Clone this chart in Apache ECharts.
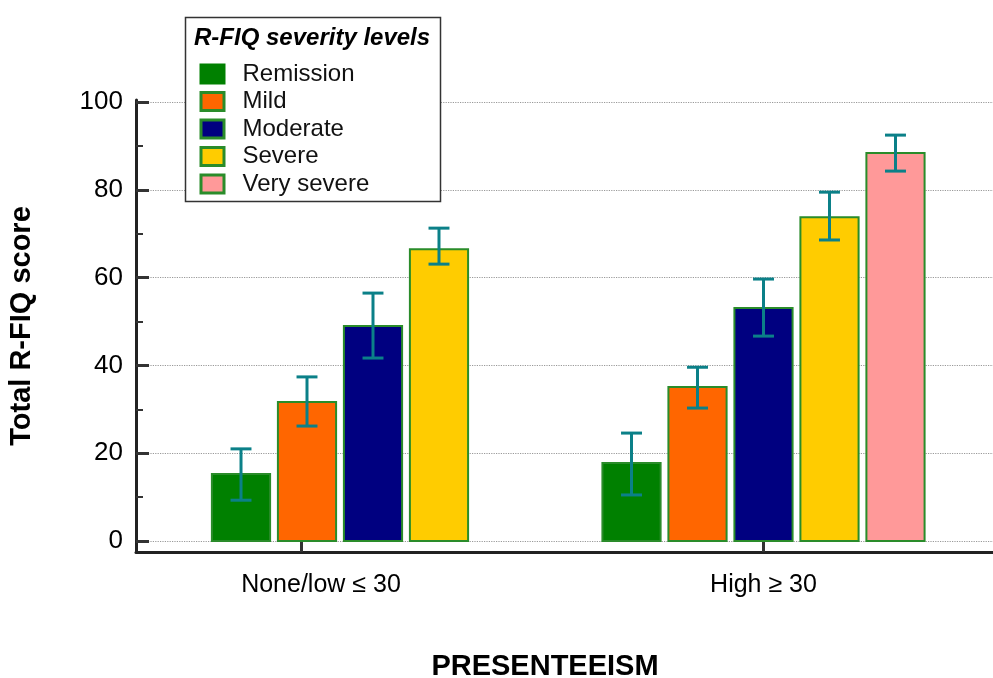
<!DOCTYPE html>
<html>
<head>
<meta charset="utf-8">
<script src="https://cdn.jsdelivr.net/npm/echarts@6/dist/echarts.min.js"></script>
<style>
html,body{margin:0;padding:0;background:#fff;}
#chart{width:993px;height:678px;}
</style>
</head>
<body>
<div id="chart"></div>
<script>
// ---- data ----
const categories = ['None/low ≤ 30', 'High ≥ 30'];
const levels = ['Remission', 'Mild', 'Moderate', 'Severe', 'Very severe'];

const remissionMean  = [15.3, 17.8];
const remissionLow   = [9.3, 10.5];
const remissionHigh  = [21.0, 24.6];

const mildMean       = [31.7, 35.1];
const mildLow        = [26.2, 30.3];
const mildHigh       = [37.4, 39.6];

const moderateMean   = [49.0, 53.1];
const moderateLow    = [41.7, 46.7];
const moderateHigh   = [56.5, 59.7];

const severeMean     = [66.5, 73.8];
const severeLow      = [63.1, 68.6];
const severeHigh     = [71.3, 79.5];

const verySevereMean = [null, 88.4];
const verySevereLow  = [null, 84.3];
const verySevereHigh = [null, 92.5];

const yTickValues = [0, 20, 40, 60, 80, 100];
const yMinorTickValues = [10, 30, 50, 70, 90];

// ---- styling / layout ----
const fillColors = ['#008000', '#ff6600', '#000080', '#ffcc00', '#ff9999'];
const borderColor = '#2a8c2a';
const errColor = '#0b8088';
const FONT = 'Liberation Sans, Arial, Helvetica, sans-serif';

const XMIN = 0.3931, XMAX = 2.5877;
const PITCH = 0.169, BW = 0.149;
const tickPositions = [0.8156, 2.0];
const labelPositions = [0.8668, 2.0];

const seriesMeans = [remissionMean, mildMean, moderateMean, severeMean, verySevereMean];
const seriesLows  = [remissionLow, mildLow, moderateLow, severeLow, verySevereLow];
const seriesHighs = [remissionHigh, mildHigh, moderateHigh, severeHigh, verySevereHigh];

function makeSeries(k) {
  const data = [];
  seriesMeans[k].forEach((m, i) => {
    if (m !== null) data.push([i, m, seriesLows[k][i], seriesHighs[k][i]]);
  });
  return {
    type: 'custom',
    name: levels[k],
    xAxisIndex: 0,
    yAxisIndex: 0,
    itemStyle: { color: fillColors[k], borderColor: borderColor, borderWidth: 2 },
    encode: { x: 0, y: [1, 2, 3] },
    data: data,
    z: 3,
    renderItem: function (params, api) {
      const ci = api.value(0), m = api.value(1), lo = api.value(2), hi = api.value(3);
      const xc = ci + 1 + (k - 2) * PITCH;
      const p0 = api.coord([xc - BW / 2, 0]);
      const p1 = api.coord([xc + BW / 2, m]);
      const w = p1[0] - p0[0];
      const pt = api.coord([xc, hi]);
      const pb = api.coord([xc, lo]);
      const cap = w * 0.18;
      return {
        type: 'group',
        children: [
          { type: 'rect',
            shape: { x: p0[0], y: p1[1], width: w, height: p0[1] - p1[1] },
            style: { fill: fillColors[k], stroke: borderColor, lineWidth: 2 } },
          { type: 'line', shape: { x1: pt[0], y1: pt[1], x2: pb[0], y2: pb[1] },
            style: { stroke: errColor, lineWidth: 3 } },
          { type: 'line', shape: { x1: pt[0] - cap, y1: pt[1], x2: pt[0] + cap, y2: pt[1] },
            style: { stroke: errColor, lineWidth: 3 } },
          { type: 'line', shape: { x1: pb[0] - cap, y1: pb[1], x2: pb[0] + cap, y2: pb[1] },
            style: { stroke: errColor, lineWidth: 3 } }
        ]
      };
    }
  };
}

const chart = echarts.init(document.getElementById('chart'), null, { renderer: 'canvas' });
const option = {
  backgroundColor: '#ffffff',
  animation: false,
  textStyle: { fontFamily: FONT },
  grid: { left: 136, right: 0, top: 100, bottom: 126, containLabel: false, outerBoundsMode: 'none' },
  legend: {
    orient: 'vertical',
    left: 199.5,
    top: 62,
    padding: 0,
    itemWidth: 23,
    itemHeight: 18,
    itemGap: 3.5,
    icon: 'rect',
    z: 6,
    selectedMode: false,
    textStyle: { fontFamily: FONT, fontSize: 24, color: '#111', lineHeight: 24, padding: [0, 0, 0, 13.5] },
    data: levels.map((n, k) => ({
      name: n,
      itemStyle: { color: fillColors[k], borderColor: k === 0 ? fillColors[0] : borderColor, borderWidth: 3 }
    }))
  },
  graphic: [
    { type: 'rect', z: 4, shape: { x: 185.5, y: 17.5, width: 255, height: 184 },
      style: { fill: '#ffffff', stroke: '#333', lineWidth: 1.5 } },
    { type: 'text', z: 6, x: 194, y: 38,
      style: { text: 'R-FIQ severity levels', fontFamily: FONT, fontSize: 24, fontWeight: 'bold',
               fontStyle: 'italic', fill: '#000', textVerticalAlign: 'middle', verticalAlign: 'middle' } }
  ],
  xAxis: [{
    type: 'value',
    min: XMIN,
    max: XMAX,
    position: 'bottom',
    axisLine: { show: true, onZero: false, lineStyle: { color: '#222', width: 3 } },
    axisTick: { show: true, inside: true, length: 11, customValues: tickPositions,
                lineStyle: { color: '#333', width: 3 } },
    axisLabel: { show: true, customValues: labelPositions, margin: 21, fontSize: 25, color: '#000',
                 fontFamily: FONT,
                 formatter: function (v) {
                   let best = 0, d = Infinity;
                   labelPositions.forEach((p, i) => { if (Math.abs(p - v) < d) { d = Math.abs(p - v); best = i; } });
                   return categories[best];
                 } },
    splitLine: { show: false },
    name: 'PRESENTEEISM',
    nameLocation: 'middle',
    nameGap: 100,
    nameTextStyle: { fontSize: 29, fontWeight: 'bold', color: '#000', fontFamily: FONT, padding: [0, 39, 0, 0] }
  }],
  yAxis: [{
    type: 'value',
    min: -2.5,
    max: 100.5,
    position: 'left',
    axisLine: { show: true, onZero: false, lineStyle: { color: '#222', width: 3 } },
    axisTick: { show: true, inside: true, length: 13, customValues: yTickValues,
                lineStyle: { color: '#333', width: 3 } },
    axisLabel: { show: true, customValues: yTickValues, margin: 13, fontSize: 26, color: '#000', fontFamily: FONT },
    splitLine: { show: true, lineStyle: { type: 'dotted', color: '#999', width: 1.2 } },
    name: 'Total R-FIQ score',
    nameLocation: 'middle',
    nameGap: 100,
    nameTextStyle: { fontSize: 29, fontWeight: 'bold', color: '#000', fontFamily: FONT }
  }, {
    type: 'value',
    min: -2.5,
    max: 100.5,
    position: 'left',
    axisLine: { show: false },
    axisTick: { show: true, inside: true, length: 7, customValues: yMinorTickValues,
                lineStyle: { color: '#333', width: 2 } },
    axisLabel: { show: false },
    splitLine: { show: false }
  }],
  series: levels.map((n, k) => makeSeries(k))
};
chart.setOption(option);
</script>
</body>
</html>
